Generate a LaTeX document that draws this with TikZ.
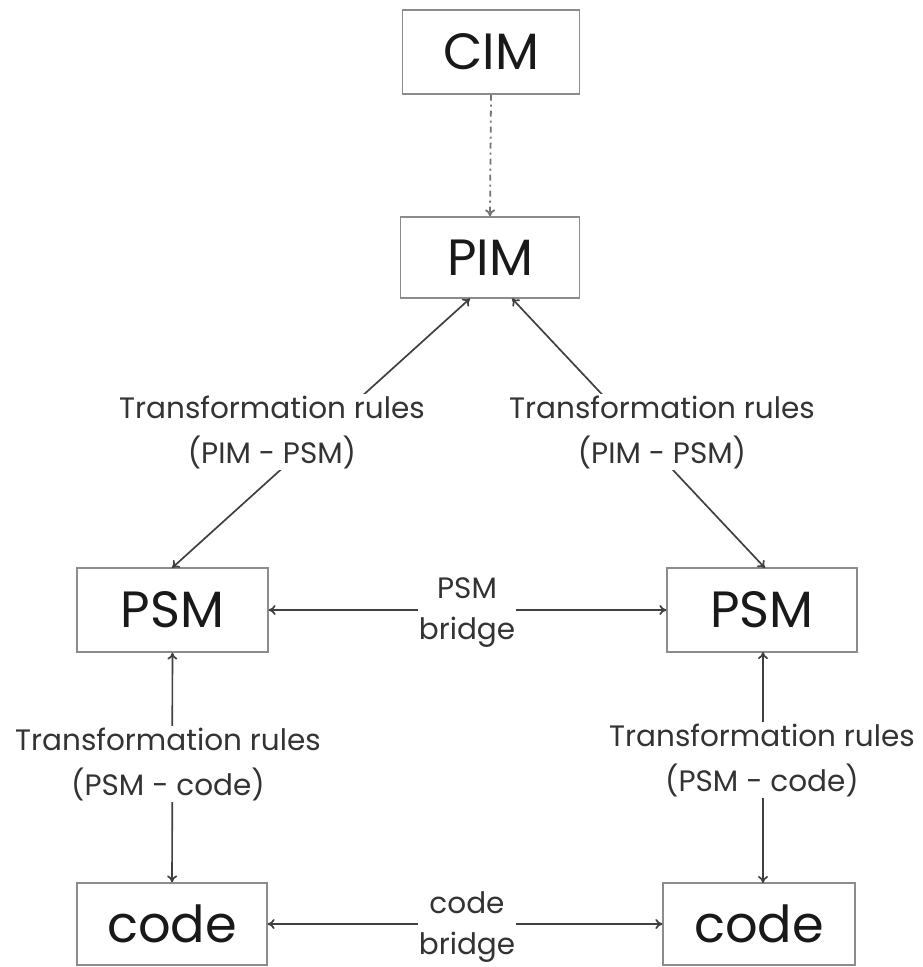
\documentclass[tikz,border=0pt]{standalone}
\usepackage{fontspec}
\setmainfont{Poppins}
\usetikzlibrary{arrows.meta}
\begin{document}
\begin{tikzpicture}[x=1pt,y=-1pt,
  box/.style={draw=black!45,line width=1.3pt,minimum width=#1,inner sep=0pt,font=\fontsize{51}{56}\selectfont\color{black!90}},
  box/.default=178pt,
  lbl/.style={align=center,fill=white,inner sep=1pt,font=\fontsize{29.5}{45}\selectfont\color{black!80}},
  blbl/.style={lbl,font=\fontsize{29.5}{41}\selectfont\color{black!80}},
  tip/.style={{To[length=7pt,width=10pt]}-{To[length=7pt,width=10pt]}},
  conn/.style={draw=black!75,line width=1.7pt,-{To[length=7pt,width=10pt]}},
  dconn/.style={conn,draw=black!55,line width=1.8pt,dash pattern=on 6pt off 4pt on 2pt off 4pt}]
\useasboundingbox (0,0) rectangle (923,967);
\node[box=177pt,minimum height=84pt] (cim) at (491,52) {CIM};
\node[box=179pt,minimum height=81pt] (pim) at (490,257.5) {PIM};
\node[box=191pt,minimum height=84pt] (psmL) at (172.5,610) {PSM};
\node[box=190pt,minimum height=84pt] (psmR) at (762,610) {PSM};
\node[box=190pt,minimum height=82pt] (codeL) at (172,924) {code};
\node[box=192pt,minimum height=82pt] (codeR) at (759,924) {code};
\coordinate (pimL) at (470,298.5);
\coordinate (pimR) at (512,298.5);
\coordinate (psmLt) at (172,568);
\coordinate (psmRt) at (765,568);
\coordinate (psmRb) at (763,652);
\coordinate (codeRt) at (763,883);
% arrows
\draw[dconn] (cim.south) -- (pim.north);
\draw[conn,tip] (psmLt) -- (pimL);
\draw[conn,tip] (pimR) -- (psmRt);
\draw[conn,tip] (psmL) -- (psmR);
\draw[conn,tip] (psmL) -- (codeL);
\draw[conn,tip] (psmRb) -- (codeRt);
\draw[conn,tip] (codeL) -- (codeR);
% labels
\node[lbl] (l1) at (272,432) {Transformation rules\\(PIM - PSM)};
\node[lbl] (l2) at (662,432) {Transformation rules\\(PIM - PSM)};
\node[blbl] (l3) at (467,613) {PSM\\bridge};
\node[lbl] (l4) at (168,764) {Transformation rules\\(PSM - code)};
\node[lbl] (l5) at (762,760) {Transformation rules\\(PSM - code)};
\node[blbl] (l6) at (467,927) {code\\bridge};
\end{tikzpicture}
\end{document}
